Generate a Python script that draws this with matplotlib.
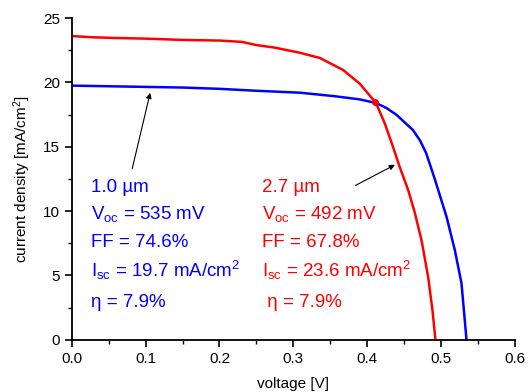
import matplotlib
matplotlib.use("Agg")
import matplotlib.pyplot as plt
from matplotlib.ticker import MultipleLocator

plt.rcParams['font.family'] = ['Liberation Sans', 'DejaVu Sans']
plt.rcParams['mathtext.fontset'] = 'custom'
plt.rcParams['mathtext.rm'] = 'Liberation Sans'
plt.rcParams['mathtext.it'] = 'Liberation Sans'

# Data
v_red = [0.0, 0.03, 0.06, 0.10, 0.15, 0.20, 0.23, 0.25, 0.275, 0.309, 0.336, 0.3675, 0.390, 0.401,
         0.412, 0.424, 0.435, 0.444, 0.4555, 0.464, 0.4736, 0.4826, 0.4885, 0.4925]
j_red = [23.6, 23.5, 23.45, 23.4, 23.3, 23.25, 23.15, 22.9, 22.7, 22.3, 21.9, 20.96, 19.9, 19.15,
         18.4, 16.8, 15.0, 13.45, 11.65, 10.0, 7.76, 4.9, 2.3, 0.0]
v_blue = [0.0, 0.05, 0.10, 0.15, 0.20, 0.25, 0.309, 0.354, 0.390, 0.412, 0.4265, 0.440, 0.462,
          0.4715, 0.480, 0.4916, 0.5075, 0.5187, 0.5278, 0.5346]
j_blue = [19.75, 19.7, 19.65, 19.6, 19.5, 19.35, 19.2, 18.94, 18.68, 18.4, 18.0, 17.47, 16.3,
          15.5, 14.5, 12.5, 9.57, 6.99, 4.4, 0.0]
cross_v, cross_j = 0.411, 18.45

blue_lines = ["1.0 µm", r"V$_{\mathrm{oc}}$ = 535 mV", "FF = 74.6%", r"I$_{\mathrm{sc}}$ = 19.7 mA/cm$^{2}$", "η = 7.9%"]
red_lines = ["2.7 µm", r"V$_{\mathrm{oc}}$ = 492 mV", "FF = 67.8%", r"I$_{\mathrm{sc}}$ = 23.6 mA/cm$^{2}$", " η = 7.9%"]
line_j = [11.8, 9.8, 7.6, 5.4, 2.9]

fig = plt.figure(figsize=(5.28, 3.92), dpi=100)
ax = fig.add_axes([0.136, 0.133, 0.839, 0.821])

ax.plot(v_red, j_red, color='#ff0000', lw=1.8)
ax.plot(v_blue, j_blue, color='#0000ff', lw=1.8)
ax.plot([cross_v], [cross_j], 'o', color='#ff0000', ms=4)

ax.set_xlim(0, 0.6)
ax.set_ylim(0, 25)
ax.xaxis.set_major_locator(MultipleLocator(0.1))
ax.xaxis.set_minor_locator(MultipleLocator(0.05))
ax.yaxis.set_major_locator(MultipleLocator(5))
ax.yaxis.set_minor_locator(MultipleLocator(2.5))
ax.spines['top'].set_visible(False)
ax.spines['right'].set_visible(False)
ax.spines['left'].set_linewidth(1.3)
ax.spines['bottom'].set_linewidth(1.3)
ax.tick_params(which='major', direction='out', length=5, width=1.2, labelsize=11)
ax.tick_params(which='minor', direction='out', length=3, width=1.0)
ax.set_xlabel('voltage [V]', fontsize=11, va='center')
ax.set_ylabel('current density [mA/cm$^{2}$]', fontsize=11, va='center')
ax.xaxis.set_label_coords(0.5, -0.137)
ax.yaxis.set_label_coords(-0.113, 0.5)

for t, yj in zip(blue_lines, line_j):
    ax.text(0.026, yj, t, color='#0000ff', fontsize=13.5, va='center', ha='left')
for t, yj in zip(red_lines, line_j):
    ax.text(0.258, yj, t, color='#ff0000', fontsize=13.5, va='center', ha='left')

ax.annotate('', xy=(0.107, 19.4), xytext=(0.081, 13.1),
            arrowprops=dict(arrowstyle='-|>', color='black', lw=0.8, mutation_scale=8))
ax.annotate('', xy=(0.441, 13.7), xytext=(0.381, 11.9),
            arrowprops=dict(arrowstyle='-|>', color='black', lw=0.8, mutation_scale=8))

fig.savefig('out.png', dpi=100)
